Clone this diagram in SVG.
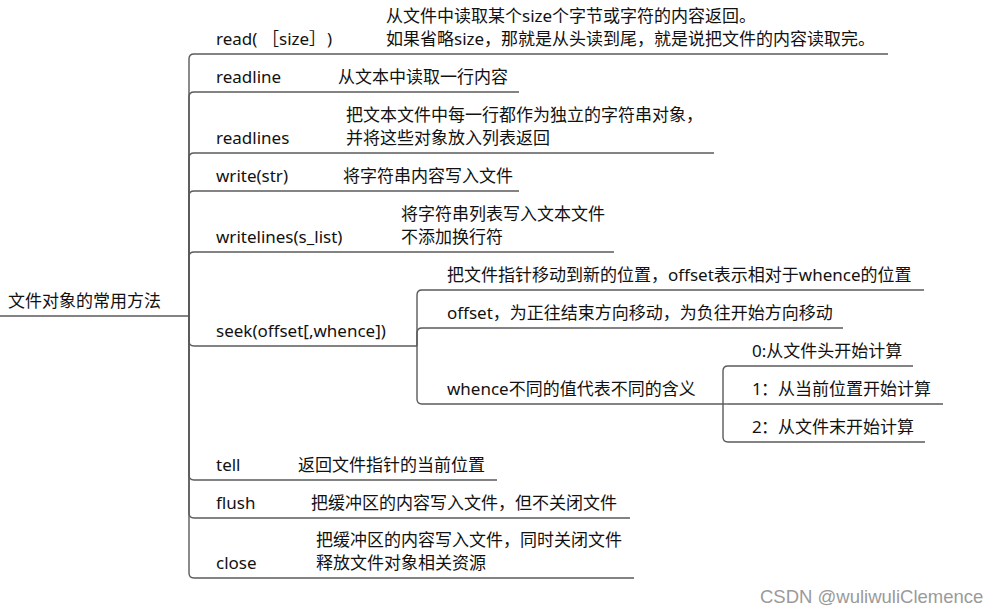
<svg xmlns="http://www.w3.org/2000/svg" width="1000" height="613" viewBox="0 0 1000 613">
<style>
text{font-family:"Noto Sans","Noto Sans CJK SC",sans-serif;font-size:17px;fill:#111}
.ln{fill:none;stroke:#5a5a5a;stroke-width:1.4}
.wm{font-family:"Liberation Sans",Arial,sans-serif;font-size:18.5px;fill:#9a9a9a}
</style>
<rect width="1000" height="613" fill="#fff"/>
<g id="connectors" class="ln">
<path d="M189,316 V59 Q189,54 194,54"/>
<path d="M189,316 V97 Q189,92 194,92"/>
<path d="M189,316 V158 Q189,153 194,153"/>
<path d="M189,316 V196 Q189,191 194,191"/>
<path d="M189,316 V257 Q189,252 194,252"/>
<path d="M189,316 V341 Q189,346 194,346"/>
<path d="M189,316 V475 Q189,480 194,480"/>
<path d="M189,316 V513 Q189,518 194,518"/>
<path d="M189,316 V573 Q189,578 194,578"/>
<path d="M417,346 V295 Q417,290 422,290"/>
<path d="M417,346 V333 Q417,328 422,328"/>
<path d="M417,346 V399 Q417,404 422,404"/>
<path d="M723,404 V371 Q723,366 728,366"/>
<path d="M723,404 H728"/>
<path d="M723,404 V437 Q723,442 728,442"/>
</g>
<g id="root"><text x="8" y="307">文件对象的常用方法</text><path class="ln" d="M0,316 H189"/></g>
<g id="n-read"><text x="216" y="45">read(<tspan x="262">［</tspan><tspan x="279">size</tspan><tspan x="309">］</tspan><tspan x="327">)</tspan></text><text x="386" y="22">从文件中读取某个size个字节或字符的内容返回。</text><text x="386" y="45">如果省略size，那就是从头读到尾，就是说把文件的内容读取完。</text><path class="ln" d="M194,54 H888"/></g>
<g id="n-readline"><text x="216" y="83">readline</text><text x="338" y="83">从文本中读取一行内容</text><path class="ln" d="M194,92 H519"/></g>
<g id="n-readlines"><text x="216" y="144">readlines</text><text x="346" y="121">把文本文件中每一行都作为独立的字符串对象，</text><text x="346" y="144">并将这些对象放入列表返回</text><path class="ln" d="M194,153 H714"/></g>
<g id="n-write"><text x="216" y="182">write(str)</text><text x="343" y="182">将字符串内容写入文件</text><path class="ln" d="M194,191 H519"/></g>
<g id="n-writelines"><text x="216" y="243">writelines(s_list)</text><text x="401" y="220">将字符串列表写入文本文件</text><text x="401" y="243">不添加换行符</text><path class="ln" d="M194,252 H614"/></g>
<g id="n-seek"><text x="216" y="337">seek(offset[,whence])</text><path class="ln" d="M194,346 H417"/></g>
<g id="n-seek-desc"><text x="447" y="281">把文件指针移动到新的位置，offset表示相对于whence的位置</text><path class="ln" d="M422,290 H924"/></g>
<g id="n-seek-offset"><text x="447" y="319">offset，为正往结束方向移动，为负往开始方向移动</text><path class="ln" d="M422,328 H843"/></g>
<g id="n-whence"><text x="447" y="395">whence不同的值代表不同的含义</text><path class="ln" d="M422,404 H723"/></g>
<g id="n-w0"><text x="752" y="357">0:从文件头开始计算</text><path class="ln" d="M728,366 H913"/></g>
<g id="n-w1"><text x="752" y="395">1<tspan x="761">：</tspan><tspan x="778">从当前位置开始计算</tspan></text><path class="ln" d="M728,404 H943"/></g>
<g id="n-w2"><text x="752" y="433">2<tspan x="761">：</tspan><tspan x="778">从文件末开始计算</tspan></text><path class="ln" d="M728,442 H925"/></g>
<g id="n-tell"><text x="216" y="471">tell</text><text x="298" y="471">返回文件指针的当前位置</text><path class="ln" d="M194,480 H497"/></g>
<g id="n-flush"><text x="216" y="509">flush</text><text x="311" y="509">把缓冲区的内容写入文件，但不关闭文件</text><path class="ln" d="M194,518 H630"/></g>
<g id="n-close"><text x="216" y="569">close</text><text x="316" y="546">把缓冲区的内容写入文件，同时关闭文件</text><text x="316" y="569">释放文件对象相关资源</text><path class="ln" d="M194,578 H634"/></g>
<text class="wm" x="760" y="603">CSDN @wuliwuliClemence</text>
</svg>
